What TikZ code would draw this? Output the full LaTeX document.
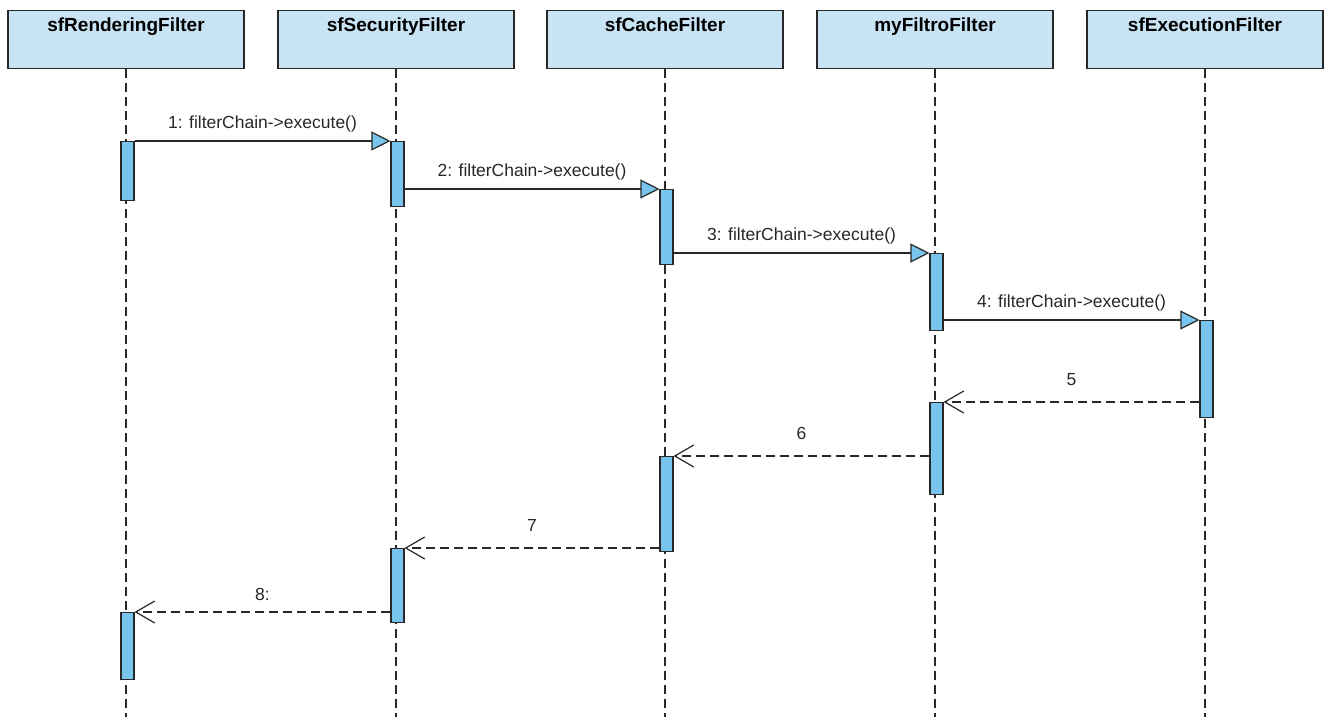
\documentclass[tikz,border=0pt]{standalone}
\usepackage{fontspec}
\setmainfont{Liberation Sans}
\usetikzlibrary{arrows.meta}
\definecolor{headfill}{RGB}{200,227,243}
\definecolor{actfill}{RGB}{121,196,236}
\definecolor{ink}{RGB}{40,40,40}
\begin{document}
\begin{tikzpicture}[x=1pt,y=-1pt,
  header/.style={draw=ink, line width=1.3pt, fill=headfill, minimum width=236pt,
    minimum height=58pt, anchor=north, inner sep=0pt},
  htext/.style={font=\fontsize{19}{22}\selectfont\bfseries, anchor=north, inner sep=0pt},
  lifeline/.style={draw=ink, line width=1.2pt, dash pattern=on 9pt off 5pt},
  act/.style={draw=ink, line width=1.1pt, fill=actfill, minimum width=13pt,
    inner sep=0pt, anchor=north},
  call/.style={draw=ink, line width=1.2pt,
    -{Triangle[length=19pt,width=19pt,fill=actfill,line width=1.2pt]}},
  reply/.style={draw=ink, line width=1.2pt, dash pattern=on 9pt off 5pt,
    -{Straight Barb[length=19pt,width=22pt,line width=1.2pt]}},
  msg/.style={font=\fontsize{17.5}{20}\selectfont, text=ink}
]
\useasboundingbox (0,0) rectangle (1330,717);
\fill[white] (0,0) rectangle (1330,717);

% participants
\foreach \n/\x/\t in {p1/126/sfRenderingFilter, p2/396/sfSecurityFilter,
  p3/665/sfCacheFilter, p4/935/myFiltroFilter, p5/1205/sfExecutionFilter} {
  \node[header] (\n) at (\x,10) {};
  \node[htext] (\n t) at ([yshift=-8pt]\n.north) {\t};
  \coordinate (\n e) at (\x,717);
  \draw[lifeline] (\n.south) -- (\n e);
}

% activation bars
\node[act, minimum height=59pt] (a1) at (127.5,141) {};
\node[act, minimum height=65pt] (a2) at (397.5,141) {};
\node[act, minimum height=75pt] (a3) at (666.5,189) {};
\node[act, minimum height=77pt] (a4) at (936.5,253) {};
\node[act, minimum height=97pt] (a5) at (1206.5,320) {};
\node[act, minimum height=92pt] (a6) at (936.5,402) {};
\node[act, minimum height=95pt] (a7) at (666.5,456) {};
\node[act, minimum height=74pt] (a8) at (397.5,548) {};
\node[act, minimum height=67pt] (a9) at (127.5,612) {};

% calls
\draw[call] (a1.north east) -- node[msg, above=5pt] (m1) {1: filterChain->execute()} (a2.north west);
\draw[call] (a2.east |- a3.north) -- node[msg, above=5pt] (m2) {2: filterChain->execute()} (a3.north west);
\draw[call] (a3.east |- a4.north) -- node[msg, above=5pt] (m3) {3: filterChain->execute()} (a4.north west);
\draw[call] (a4.east |- a5.north) -- node[msg, above=5pt] (m4) {4: filterChain->execute()} (a5.north west);

% returns
\draw[reply] (a5.west |- a6.north) -- node[msg, above=12pt] (m5) {5} (a6.north east);
\draw[reply] (a6.west |- a7.north) -- node[msg, above=12pt] (m6) {6} (a7.north east);
\draw[reply] (a7.west |- a8.north) -- node[msg, above=13pt] (m7) {7} (a8.north east);
\draw[reply] (a8.west |- a9.north) -- node[msg, above=7pt] (m8) {8:} (a9.north east);
\end{tikzpicture}
\end{document}
